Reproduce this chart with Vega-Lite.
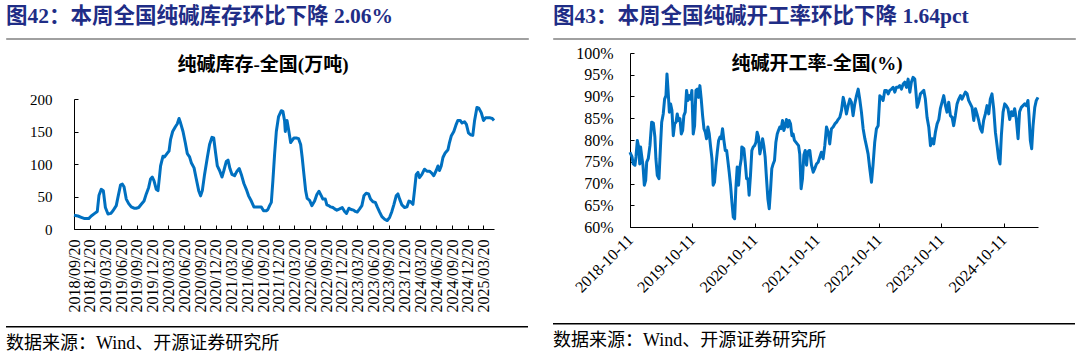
{
  "$schema": "https://vega.github.io/schema/vega-lite/v6.json",
  "background": "white",
  "padding": {"left": 5, "top": 5, "right": 0, "bottom": 0},
  "spacing": 23,
  "hconcat": [
    {
      "spacing": 12,
      "vconcat": [
        {
          "width": 522,
          "height": 1,
          "view": {"fill": "#a0a0a0", "stroke": "#a0a0a0", "strokeWidth": 1},
          "data": {"values": [{"k": 1}]},
          "mark": {"type": "text"},
          "encoding": {"text": {"value": ""}},
          "title": {"text": "图42：本周全国纯碱库存环比下降 2.06%", "anchor": "start", "fontSize": 21.5, "fontWeight": "bold", "color": "#1f2d86", "offset": 5}
        },
        {
          "spacing": 8,
          "vconcat": [
            {
              "bounds": "flush",
              "spacing": 0,
              "hconcat": [
                {
                  "width": 68,
                  "height": 1,
                  "data": {"values": [{"k": 1}]},
                  "mark": {"type": "text"},
                  "encoding": {"text": {"value": ""}}
                },
                {
                  "width": 420,
                  "height": 130,
                  "data": {"name": "inv"},
                  "title": {"text": "纯碱库存-全国(万吨)", "fontSize": 19, "fontWeight": "bold", "color": "#000000", "anchor": "middle", "dx": -21, "offset": 17},
                  "mark": {"type": "line", "color": "#0070C0", "strokeWidth": 3, "strokeJoin": "round"},
                  "encoding": {
                    "x": {
                      "field": "date", "type": "temporal",
                      "scale": {"domain": [{"year": 2018, "month": 9, "date": 20}, {"year": 2025, "month": 5, "date": 21}]},
                      "axis": {
                        "title": null, "format": "%Y/%m/%d", "labelAngle": 270, "labelFontSize": 16, "labelPadding": 14, "tickSize": -4,
                        "labelOverlap": false, "labelFlush": false, "labelBound": false,
                        "values": [
                          {"year": 2018, "month": 9, "date": 20}, {"year": 2018, "month": 12, "date": 20},
                          {"year": 2019, "month": 3, "date": 20}, {"year": 2019, "month": 6, "date": 20}, {"year": 2019, "month": 9, "date": 20}, {"year": 2019, "month": 12, "date": 20},
                          {"year": 2020, "month": 3, "date": 20}, {"year": 2020, "month": 6, "date": 20}, {"year": 2020, "month": 9, "date": 20}, {"year": 2020, "month": 12, "date": 20},
                          {"year": 2021, "month": 3, "date": 20}, {"year": 2021, "month": 6, "date": 20}, {"year": 2021, "month": 9, "date": 20}, {"year": 2021, "month": 12, "date": 20},
                          {"year": 2022, "month": 3, "date": 20}, {"year": 2022, "month": 6, "date": 20}, {"year": 2022, "month": 9, "date": 20}, {"year": 2022, "month": 12, "date": 20},
                          {"year": 2023, "month": 3, "date": 20}, {"year": 2023, "month": 6, "date": 20}, {"year": 2023, "month": 9, "date": 20}, {"year": 2023, "month": 12, "date": 20},
                          {"year": 2024, "month": 3, "date": 20}, {"year": 2024, "month": 6, "date": 20}, {"year": 2024, "month": 9, "date": 20}, {"year": 2024, "month": 12, "date": 20},
                          {"year": 2025, "month": 3, "date": 20}
                        ]
                      }
                    },
                    "y": {
                      "field": "v", "type": "quantitative",
                      "scale": {"domain": [0, 200], "nice": false},
                      "axis": {"title": null, "values": [0, 50, 100, 150, 200], "labelFontSize": 15, "labelPadding": 26, "tickSize": -4}
                    }
                  }
                }
              ]
            },
            {
              "width": 522,
              "height": 1.5,
              "view": {"fill": "#000000", "stroke": null},
              "data": {"values": [{"k": 1}]},
              "mark": {"type": "text"},
              "encoding": {"text": {"value": ""}},
              "title": {"text": "数据来源：Wind、开源证券研究所", "orient": "bottom", "anchor": "start", "fontSize": 18, "fontWeight": "normal", "color": "#000000", "offset": 3}
            }
          ]
        }
      ]
    },
    {
      "spacing": 1,
      "vconcat": [
        {
          "width": 522,
          "height": 1,
          "view": {"fill": "#a0a0a0", "stroke": "#a0a0a0", "strokeWidth": 1},
          "data": {"values": [{"k": 1}]},
          "mark": {"type": "text"},
          "encoding": {"text": {"value": ""}},
          "title": {"text": "图43：本周全国纯碱开工率环比下降 1.64pct", "anchor": "start", "fontSize": 21.5, "fontWeight": "bold", "color": "#1f2d86", "offset": 5}
        },
        {
          "spacing": 21,
          "vconcat": [
            {
              "bounds": "flush",
              "spacing": 0,
              "hconcat": [
                {
                  "width": 77,
                  "height": 1,
                  "data": {"values": [{"k": 1}]},
                  "mark": {"type": "text"},
                  "encoding": {"text": {"value": ""}}
                },
                {
                  "width": 408,
                  "height": 174,
                  "data": {"name": "rate"},
                  "title": {"text": "纯碱开工率-全国(%)", "fontSize": 19, "fontWeight": "bold", "color": "#000000", "anchor": "middle", "dx": -17, "offset": -29},
                  "mark": {"type": "line", "color": "#0070C0", "strokeWidth": 3, "strokeJoin": "round"},
                  "encoding": {
                    "x": {
                      "field": "date", "type": "temporal",
                      "scale": {"domain": [{"year": 2018, "month": 10, "date": 11}, {"year": 2025, "month": 5, "date": 1}]},
                      "axis": {
                        "title": null, "format": "%Y-%m-%d", "labelAngle": -45, "labelBaseline": "middle", "labelFontSize": 16, "labelPadding": 14, "tickSize": -4,
                        "labelOverlap": false, "labelFlush": false, "labelBound": false,
                        "values": [
                          {"year": 2018, "month": 10, "date": 11}, {"year": 2019, "month": 10, "date": 11}, {"year": 2020, "month": 10, "date": 11},
                          {"year": 2021, "month": 10, "date": 11}, {"year": 2022, "month": 10, "date": 11}, {"year": 2023, "month": 10, "date": 11},
                          {"year": 2024, "month": 10, "date": 11}
                        ]
                      }
                    },
                    "y": {
                      "field": "v", "type": "quantitative",
                      "scale": {"domain": [0.6, 1.0], "nice": false, "zero": false},
                      "axis": {"title": null, "format": ".0%", "values": [0.6, 0.65, 0.7, 0.75, 0.8, 0.85, 0.9, 0.95, 1.0], "labelFontSize": 16, "labelPadding": 21, "tickSize": -4}
                    }
                  }
                }
              ]
            },
            {
              "width": 522,
              "height": 1.5,
              "view": {"fill": "#000000", "stroke": null},
              "data": {"values": [{"k": 1}]},
              "mark": {"type": "text"},
              "encoding": {"text": {"value": ""}},
              "title": {"text": "数据来源：Wind、开源证券研究所", "orient": "bottom", "anchor": "start", "fontSize": 18, "fontWeight": "normal", "color": "#000000", "offset": 3}
            }
          ]
        }
      ]
    }
  ],
  "datasets": {
    "inv": [
      {"date": "2018-09-20", "v": 21}, {"date": "2018-10-13", "v": 20}, {"date": "2018-11-01", "v": 18}, {"date": "2018-11-21", "v": 16}, {"date": "2018-12-14", "v": 16}, {"date": "2018-12-29", "v": 20},
      {"date": "2019-01-18", "v": 24}, {"date": "2019-02-02", "v": 27}, {"date": "2019-02-12", "v": 52}, {"date": "2019-02-25", "v": 61}, {"date": "2019-03-09", "v": 59}, {"date": "2019-03-21", "v": 33},
      {"date": "2019-04-05", "v": 23}, {"date": "2019-04-21", "v": 24}, {"date": "2019-05-04", "v": 28}, {"date": "2019-05-23", "v": 36}, {"date": "2019-06-02", "v": 49}, {"date": "2019-06-17", "v": 68},
      {"date": "2019-06-27", "v": 69}, {"date": "2019-07-07", "v": 65}, {"date": "2019-07-20", "v": 46}, {"date": "2019-08-03", "v": 39}, {"date": "2019-08-18", "v": 34}, {"date": "2019-09-03", "v": 32},
      {"date": "2019-09-16", "v": 32}, {"date": "2019-09-30", "v": 33}, {"date": "2019-10-15", "v": 38}, {"date": "2019-10-31", "v": 43}, {"date": "2019-11-13", "v": 54}, {"date": "2019-11-27", "v": 64},
      {"date": "2019-12-08", "v": 77}, {"date": "2019-12-18", "v": 80}, {"date": "2019-12-28", "v": 74}, {"date": "2020-01-10", "v": 61}, {"date": "2020-01-20", "v": 59}, {"date": "2020-01-28", "v": 79},
      {"date": "2020-02-04", "v": 97}, {"date": "2020-02-18", "v": 112}, {"date": "2020-02-27", "v": 111}, {"date": "2020-03-12", "v": 116}, {"date": "2020-03-24", "v": 120}, {"date": "2020-04-02", "v": 138},
      {"date": "2020-04-14", "v": 150}, {"date": "2020-04-29", "v": 157}, {"date": "2020-05-11", "v": 162}, {"date": "2020-05-21", "v": 170}, {"date": "2020-05-30", "v": 163}, {"date": "2020-06-13", "v": 150},
      {"date": "2020-06-26", "v": 133}, {"date": "2020-07-08", "v": 116}, {"date": "2020-07-21", "v": 111}, {"date": "2020-07-31", "v": 102}, {"date": "2020-08-16", "v": 94}, {"date": "2020-08-29", "v": 77},
      {"date": "2020-09-12", "v": 59}, {"date": "2020-09-23", "v": 51}, {"date": "2020-10-03", "v": 59}, {"date": "2020-10-16", "v": 84}, {"date": "2020-11-01", "v": 110}, {"date": "2020-11-14", "v": 130},
      {"date": "2020-11-28", "v": 141}, {"date": "2020-12-08", "v": 140}, {"date": "2020-12-19", "v": 117}, {"date": "2020-12-29", "v": 97}, {"date": "2021-01-11", "v": 90}, {"date": "2021-01-25", "v": 80},
      {"date": "2021-02-05", "v": 90}, {"date": "2021-02-19", "v": 104}, {"date": "2021-03-01", "v": 106}, {"date": "2021-03-12", "v": 93}, {"date": "2021-03-24", "v": 84}, {"date": "2021-04-08", "v": 82},
      {"date": "2021-04-22", "v": 89}, {"date": "2021-05-05", "v": 93}, {"date": "2021-05-17", "v": 84}, {"date": "2021-06-01", "v": 70}, {"date": "2021-06-15", "v": 61}, {"date": "2021-06-28", "v": 51},
      {"date": "2021-07-14", "v": 43}, {"date": "2021-07-29", "v": 34}, {"date": "2021-08-12", "v": 34}, {"date": "2021-08-25", "v": 34}, {"date": "2021-09-10", "v": 34}, {"date": "2021-09-23", "v": 28},
      {"date": "2021-10-09", "v": 28}, {"date": "2021-10-18", "v": 30}, {"date": "2021-10-28", "v": 36}, {"date": "2021-11-07", "v": 41}, {"date": "2021-11-16", "v": 74}, {"date": "2021-11-26", "v": 115},
      {"date": "2021-12-06", "v": 150}, {"date": "2021-12-19", "v": 173}, {"date": "2022-01-04", "v": 182}, {"date": "2022-01-13", "v": 181}, {"date": "2022-01-23", "v": 166}, {"date": "2022-01-27", "v": 150},
      {"date": "2022-02-06", "v": 167}, {"date": "2022-02-15", "v": 153}, {"date": "2022-02-27", "v": 133}, {"date": "2022-03-07", "v": 136}, {"date": "2022-03-18", "v": 140}, {"date": "2022-04-01", "v": 140},
      {"date": "2022-04-14", "v": 139}, {"date": "2022-04-26", "v": 130}, {"date": "2022-05-05", "v": 110}, {"date": "2022-05-15", "v": 84}, {"date": "2022-05-25", "v": 59}, {"date": "2022-06-03", "v": 47},
      {"date": "2022-06-17", "v": 44}, {"date": "2022-06-30", "v": 36}, {"date": "2022-07-16", "v": 43}, {"date": "2022-07-29", "v": 53}, {"date": "2022-08-10", "v": 58}, {"date": "2022-08-24", "v": 51},
      {"date": "2022-09-02", "v": 46}, {"date": "2022-09-16", "v": 46}, {"date": "2022-09-25", "v": 37}, {"date": "2022-10-05", "v": 36}, {"date": "2022-10-17", "v": 34}, {"date": "2022-10-30", "v": 33},
      {"date": "2022-11-09", "v": 31}, {"date": "2022-11-22", "v": 29}, {"date": "2022-12-08", "v": 31}, {"date": "2022-12-23", "v": 33}, {"date": "2023-01-06", "v": 27}, {"date": "2023-01-17", "v": 24},
      {"date": "2023-01-31", "v": 32}, {"date": "2023-02-13", "v": 30}, {"date": "2023-02-27", "v": 29}, {"date": "2023-03-09", "v": 27}, {"date": "2023-03-20", "v": 26}, {"date": "2023-04-03", "v": 31},
      {"date": "2023-04-16", "v": 36}, {"date": "2023-04-28", "v": 51}, {"date": "2023-05-11", "v": 55}, {"date": "2023-05-25", "v": 54}, {"date": "2023-06-05", "v": 46}, {"date": "2023-06-19", "v": 42},
      {"date": "2023-07-03", "v": 41}, {"date": "2023-07-14", "v": 34}, {"date": "2023-07-28", "v": 26}, {"date": "2023-08-10", "v": 19}, {"date": "2023-08-26", "v": 15}, {"date": "2023-09-10", "v": 13},
      {"date": "2023-09-24", "v": 18}, {"date": "2023-10-07", "v": 27}, {"date": "2023-10-19", "v": 38}, {"date": "2023-11-01", "v": 51}, {"date": "2023-11-11", "v": 54}, {"date": "2023-11-21", "v": 46},
      {"date": "2023-12-04", "v": 37}, {"date": "2023-12-20", "v": 33}, {"date": "2024-01-02", "v": 34}, {"date": "2024-01-14", "v": 43}, {"date": "2024-01-23", "v": 42}, {"date": "2024-02-06", "v": 38},
      {"date": "2024-02-15", "v": 59}, {"date": "2024-02-25", "v": 84}, {"date": "2024-03-06", "v": 87}, {"date": "2024-03-15", "v": 79}, {"date": "2024-03-29", "v": 84}, {"date": "2024-04-13", "v": 92},
      {"date": "2024-04-27", "v": 89}, {"date": "2024-05-12", "v": 89}, {"date": "2024-05-25", "v": 86}, {"date": "2024-06-06", "v": 82}, {"date": "2024-06-20", "v": 90}, {"date": "2024-06-30", "v": 97},
      {"date": "2024-07-09", "v": 90}, {"date": "2024-07-19", "v": 97}, {"date": "2024-07-29", "v": 110}, {"date": "2024-08-11", "v": 117}, {"date": "2024-08-27", "v": 122}, {"date": "2024-09-05", "v": 133},
      {"date": "2024-09-15", "v": 143}, {"date": "2024-09-30", "v": 150}, {"date": "2024-10-14", "v": 161}, {"date": "2024-10-23", "v": 167}, {"date": "2024-11-06", "v": 167}, {"date": "2024-11-17", "v": 163},
      {"date": "2024-12-01", "v": 165}, {"date": "2024-12-12", "v": 161}, {"date": "2024-12-24", "v": 148}, {"date": "2025-01-05", "v": 145}, {"date": "2025-01-18", "v": 144}, {"date": "2025-01-28", "v": 166},
      {"date": "2025-02-11", "v": 187}, {"date": "2025-02-22", "v": 186}, {"date": "2025-03-08", "v": 179}, {"date": "2025-03-21", "v": 167}, {"date": "2025-04-02", "v": 171}, {"date": "2025-04-16", "v": 171},
      {"date": "2025-04-29", "v": 171}, {"date": "2025-05-11", "v": 170}, {"date": "2025-05-21", "v": 167}
    ],
    "rate": [
      {"date": "2018-10-11", "v": 0.772}, {"date": "2018-10-15", "v": 0.768}, {"date": "2018-10-23", "v": 0.761}, {"date": "2018-10-30", "v": 0.745}, {"date": "2018-11-09", "v": 0.742}, {"date": "2018-11-15", "v": 0.761},
      {"date": "2018-11-23", "v": 0.799}, {"date": "2018-12-01", "v": 0.784}, {"date": "2018-12-07", "v": 0.745}, {"date": "2018-12-12", "v": 0.784}, {"date": "2018-12-18", "v": 0.765}, {"date": "2018-12-26", "v": 0.742},
      {"date": "2019-01-03", "v": 0.696}, {"date": "2019-01-11", "v": 0.707}, {"date": "2019-01-17", "v": 0.749}, {"date": "2019-01-26", "v": 0.757}, {"date": "2019-02-05", "v": 0.787}, {"date": "2019-02-15", "v": 0.841},
      {"date": "2019-02-25", "v": 0.839}, {"date": "2019-03-06", "v": 0.807}, {"date": "2019-03-12", "v": 0.757}, {"date": "2019-03-20", "v": 0.719}, {"date": "2019-03-30", "v": 0.711}, {"date": "2019-04-09", "v": 0.795},
      {"date": "2019-04-15", "v": 0.841}, {"date": "2019-04-24", "v": 0.86}, {"date": "2019-05-02", "v": 0.894}, {"date": "2019-05-10", "v": 0.902}, {"date": "2019-05-16", "v": 0.952}, {"date": "2019-05-22", "v": 0.917},
      {"date": "2019-05-30", "v": 0.864}, {"date": "2019-06-06", "v": 0.883}, {"date": "2019-06-14", "v": 0.868}, {"date": "2019-06-22", "v": 0.81}, {"date": "2019-06-30", "v": 0.837}, {"date": "2019-07-08", "v": 0.841},
      {"date": "2019-07-15", "v": 0.86}, {"date": "2019-07-23", "v": 0.845}, {"date": "2019-07-31", "v": 0.849}, {"date": "2019-08-08", "v": 0.814}, {"date": "2019-08-16", "v": 0.822}, {"date": "2019-08-23", "v": 0.856},
      {"date": "2019-08-31", "v": 0.864}, {"date": "2019-09-08", "v": 0.914}, {"date": "2019-09-16", "v": 0.891}, {"date": "2019-09-24", "v": 0.902}, {"date": "2019-10-02", "v": 0.894}, {"date": "2019-10-09", "v": 0.914},
      {"date": "2019-10-17", "v": 0.814}, {"date": "2019-10-25", "v": 0.833}, {"date": "2019-11-02", "v": 0.914}, {"date": "2019-11-10", "v": 0.917}, {"date": "2019-11-17", "v": 0.898}, {"date": "2019-11-25", "v": 0.925},
      {"date": "2019-12-03", "v": 0.894}, {"date": "2019-12-11", "v": 0.856}, {"date": "2019-12-19", "v": 0.826}, {"date": "2019-12-27", "v": 0.818}, {"date": "2020-01-03", "v": 0.803}, {"date": "2020-01-11", "v": 0.83},
      {"date": "2020-01-19", "v": 0.814}, {"date": "2020-01-27", "v": 0.784}, {"date": "2020-02-04", "v": 0.757}, {"date": "2020-02-11", "v": 0.696}, {"date": "2020-02-19", "v": 0.703}, {"date": "2020-02-27", "v": 0.742},
      {"date": "2020-03-06", "v": 0.772}, {"date": "2020-03-14", "v": 0.799}, {"date": "2020-03-22", "v": 0.807}, {"date": "2020-03-29", "v": 0.803}, {"date": "2020-04-06", "v": 0.826}, {"date": "2020-04-14", "v": 0.799},
      {"date": "2020-04-22", "v": 0.776}, {"date": "2020-04-30", "v": 0.776}, {"date": "2020-05-07", "v": 0.753}, {"date": "2020-05-15", "v": 0.726}, {"date": "2020-05-23", "v": 0.696}, {"date": "2020-05-31", "v": 0.657},
      {"date": "2020-06-08", "v": 0.623}, {"date": "2020-06-16", "v": 0.619}, {"date": "2020-06-23", "v": 0.688}, {"date": "2020-07-01", "v": 0.738}, {"date": "2020-07-09", "v": 0.696}, {"date": "2020-07-17", "v": 0.738},
      {"date": "2020-07-25", "v": 0.757}, {"date": "2020-07-28", "v": 0.784}, {"date": "2020-08-09", "v": 0.78}, {"date": "2020-08-17", "v": 0.749}, {"date": "2020-08-25", "v": 0.711}, {"date": "2020-09-02", "v": 0.711},
      {"date": "2020-09-09", "v": 0.673}, {"date": "2020-09-17", "v": 0.719}, {"date": "2020-09-25", "v": 0.776}, {"date": "2020-10-03", "v": 0.784}, {"date": "2020-10-11", "v": 0.787}, {"date": "2020-10-19", "v": 0.795},
      {"date": "2020-10-26", "v": 0.818}, {"date": "2020-11-03", "v": 0.807}, {"date": "2020-11-11", "v": 0.768}, {"date": "2020-11-19", "v": 0.784}, {"date": "2020-11-27", "v": 0.803}, {"date": "2020-12-04", "v": 0.787},
      {"date": "2020-12-12", "v": 0.761}, {"date": "2020-12-20", "v": 0.711}, {"date": "2020-12-28", "v": 0.665}, {"date": "2021-01-05", "v": 0.642}, {"date": "2021-01-13", "v": 0.688}, {"date": "2021-01-20", "v": 0.734},
      {"date": "2021-01-28", "v": 0.745}, {"date": "2021-02-05", "v": 0.753}, {"date": "2021-02-13", "v": 0.795}, {"date": "2021-02-21", "v": 0.814}, {"date": "2021-02-28", "v": 0.822}, {"date": "2021-03-08", "v": 0.83},
      {"date": "2021-03-16", "v": 0.826}, {"date": "2021-03-24", "v": 0.845}, {"date": "2021-04-01", "v": 0.822}, {"date": "2021-04-09", "v": 0.833}, {"date": "2021-04-16", "v": 0.847}, {"date": "2021-04-24", "v": 0.83},
      {"date": "2021-05-02", "v": 0.845}, {"date": "2021-05-10", "v": 0.837}, {"date": "2021-05-18", "v": 0.81}, {"date": "2021-05-25", "v": 0.814}, {"date": "2021-06-02", "v": 0.799}, {"date": "2021-06-10", "v": 0.795},
      {"date": "2021-06-18", "v": 0.791}, {"date": "2021-06-26", "v": 0.787}, {"date": "2021-07-03", "v": 0.768}, {"date": "2021-07-11", "v": 0.688}, {"date": "2021-07-19", "v": 0.711}, {"date": "2021-07-27", "v": 0.765},
      {"date": "2021-08-04", "v": 0.776}, {"date": "2021-08-12", "v": 0.742}, {"date": "2021-08-19", "v": 0.772}, {"date": "2021-08-27", "v": 0.776}, {"date": "2021-08-31", "v": 0.776}, {"date": "2021-09-10", "v": 0.742},
      {"date": "2021-09-20", "v": 0.726}, {"date": "2021-09-29", "v": 0.734}, {"date": "2021-10-09", "v": 0.745}, {"date": "2021-10-19", "v": 0.749}, {"date": "2021-10-29", "v": 0.761}, {"date": "2021-11-07", "v": 0.772},
      {"date": "2021-11-17", "v": 0.757}, {"date": "2021-11-27", "v": 0.787}, {"date": "2021-12-07", "v": 0.83}, {"date": "2021-12-17", "v": 0.818}, {"date": "2021-12-26", "v": 0.791}, {"date": "2022-01-05", "v": 0.826},
      {"date": "2022-01-15", "v": 0.83}, {"date": "2022-01-25", "v": 0.837}, {"date": "2022-02-04", "v": 0.841}, {"date": "2022-02-13", "v": 0.847}, {"date": "2022-02-23", "v": 0.852}, {"date": "2022-03-05", "v": 0.868},
      {"date": "2022-03-15", "v": 0.898}, {"date": "2022-03-24", "v": 0.883}, {"date": "2022-04-03", "v": 0.86}, {"date": "2022-04-13", "v": 0.879}, {"date": "2022-04-23", "v": 0.894}, {"date": "2022-05-02", "v": 0.887},
      {"date": "2022-05-12", "v": 0.856}, {"date": "2022-05-22", "v": 0.883}, {"date": "2022-06-01", "v": 0.902}, {"date": "2022-06-11", "v": 0.917}, {"date": "2022-06-20", "v": 0.894}, {"date": "2022-06-30", "v": 0.864},
      {"date": "2022-07-10", "v": 0.826}, {"date": "2022-07-20", "v": 0.803}, {"date": "2022-07-29", "v": 0.787}, {"date": "2022-08-08", "v": 0.768}, {"date": "2022-08-18", "v": 0.734}, {"date": "2022-08-28", "v": 0.703},
      {"date": "2022-09-06", "v": 0.742}, {"date": "2022-09-16", "v": 0.795}, {"date": "2022-09-26", "v": 0.826}, {"date": "2022-10-06", "v": 0.833}, {"date": "2022-10-16", "v": 0.902}, {"date": "2022-10-25", "v": 0.898},
      {"date": "2022-11-04", "v": 0.891}, {"date": "2022-11-14", "v": 0.914}, {"date": "2022-11-24", "v": 0.914}, {"date": "2022-12-04", "v": 0.906}, {"date": "2022-12-13", "v": 0.914}, {"date": "2022-12-23", "v": 0.917},
      {"date": "2023-01-02", "v": 0.921}, {"date": "2023-01-12", "v": 0.91}, {"date": "2023-01-21", "v": 0.921}, {"date": "2023-01-31", "v": 0.921}, {"date": "2023-02-10", "v": 0.925}, {"date": "2023-02-20", "v": 0.917},
      {"date": "2023-03-02", "v": 0.929}, {"date": "2023-03-11", "v": 0.933}, {"date": "2023-03-21", "v": 0.921}, {"date": "2023-03-31", "v": 0.94}, {"date": "2023-04-10", "v": 0.91}, {"date": "2023-04-19", "v": 0.933},
      {"date": "2023-04-29", "v": 0.944}, {"date": "2023-05-09", "v": 0.94}, {"date": "2023-05-15", "v": 0.914}, {"date": "2023-05-23", "v": 0.875}, {"date": "2023-06-01", "v": 0.887}, {"date": "2023-06-11", "v": 0.906},
      {"date": "2023-06-21", "v": 0.91}, {"date": "2023-07-01", "v": 0.914}, {"date": "2023-07-10", "v": 0.894}, {"date": "2023-07-20", "v": 0.852}, {"date": "2023-07-30", "v": 0.83}, {"date": "2023-08-09", "v": 0.787},
      {"date": "2023-08-18", "v": 0.803}, {"date": "2023-08-28", "v": 0.791}, {"date": "2023-09-07", "v": 0.818}, {"date": "2023-09-17", "v": 0.837}, {"date": "2023-09-27", "v": 0.847}, {"date": "2023-10-06", "v": 0.872},
      {"date": "2023-10-16", "v": 0.887}, {"date": "2023-10-26", "v": 0.902}, {"date": "2023-11-05", "v": 0.879}, {"date": "2023-11-14", "v": 0.864}, {"date": "2023-11-24", "v": 0.887}, {"date": "2023-12-04", "v": 0.856},
      {"date": "2023-12-14", "v": 0.852}, {"date": "2023-12-23", "v": 0.833}, {"date": "2024-01-02", "v": 0.856}, {"date": "2024-01-12", "v": 0.883}, {"date": "2024-01-22", "v": 0.894}, {"date": "2024-02-01", "v": 0.902},
      {"date": "2024-02-10", "v": 0.894}, {"date": "2024-02-20", "v": 0.902}, {"date": "2024-03-01", "v": 0.91}, {"date": "2024-03-11", "v": 0.906}, {"date": "2024-03-20", "v": 0.891}, {"date": "2024-03-30", "v": 0.883},
      {"date": "2024-04-09", "v": 0.875}, {"date": "2024-04-19", "v": 0.845}, {"date": "2024-04-29", "v": 0.872}, {"date": "2024-05-08", "v": 0.86}, {"date": "2024-05-18", "v": 0.845}, {"date": "2024-05-28", "v": 0.826},
      {"date": "2024-06-07", "v": 0.818}, {"date": "2024-06-16", "v": 0.845}, {"date": "2024-06-26", "v": 0.86}, {"date": "2024-07-06", "v": 0.879}, {"date": "2024-07-16", "v": 0.86}, {"date": "2024-07-25", "v": 0.894},
      {"date": "2024-08-04", "v": 0.906}, {"date": "2024-08-14", "v": 0.872}, {"date": "2024-08-24", "v": 0.818}, {"date": "2024-09-03", "v": 0.787}, {"date": "2024-09-12", "v": 0.757}, {"date": "2024-09-20", "v": 0.745},
      {"date": "2024-09-28", "v": 0.81}, {"date": "2024-10-08", "v": 0.864}, {"date": "2024-10-18", "v": 0.883}, {"date": "2024-10-27", "v": 0.879}, {"date": "2024-11-06", "v": 0.872}, {"date": "2024-11-16", "v": 0.847},
      {"date": "2024-11-26", "v": 0.865}, {"date": "2024-12-05", "v": 0.856}, {"date": "2024-12-15", "v": 0.872}, {"date": "2024-12-25", "v": 0.847}, {"date": "2025-01-04", "v": 0.803}, {"date": "2025-01-13", "v": 0.865},
      {"date": "2025-01-23", "v": 0.875}, {"date": "2025-02-02", "v": 0.879}, {"date": "2025-02-12", "v": 0.883}, {"date": "2025-02-22", "v": 0.879}, {"date": "2025-03-03", "v": 0.891}, {"date": "2025-03-09", "v": 0.856},
      {"date": "2025-03-17", "v": 0.799}, {"date": "2025-03-25", "v": 0.78}, {"date": "2025-04-02", "v": 0.833}, {"date": "2025-04-12", "v": 0.875}, {"date": "2025-04-21", "v": 0.891}, {"date": "2025-05-01", "v": 0.898}
    ]
  },
  "config": {
    "view": {"stroke": null},
    "font": "Liberation Serif, Noto Sans CJK SC",
    "title": {"font": "Liberation Serif, Noto Sans CJK SC"},
    "axis": {
      "labelFont": "Liberation Serif", "labelColor": "#000000", "domainColor": "#000000", "tickColor": "#000000",
      "domainWidth": 1, "tickWidth": 1, "grid": false
    }
  }
}
